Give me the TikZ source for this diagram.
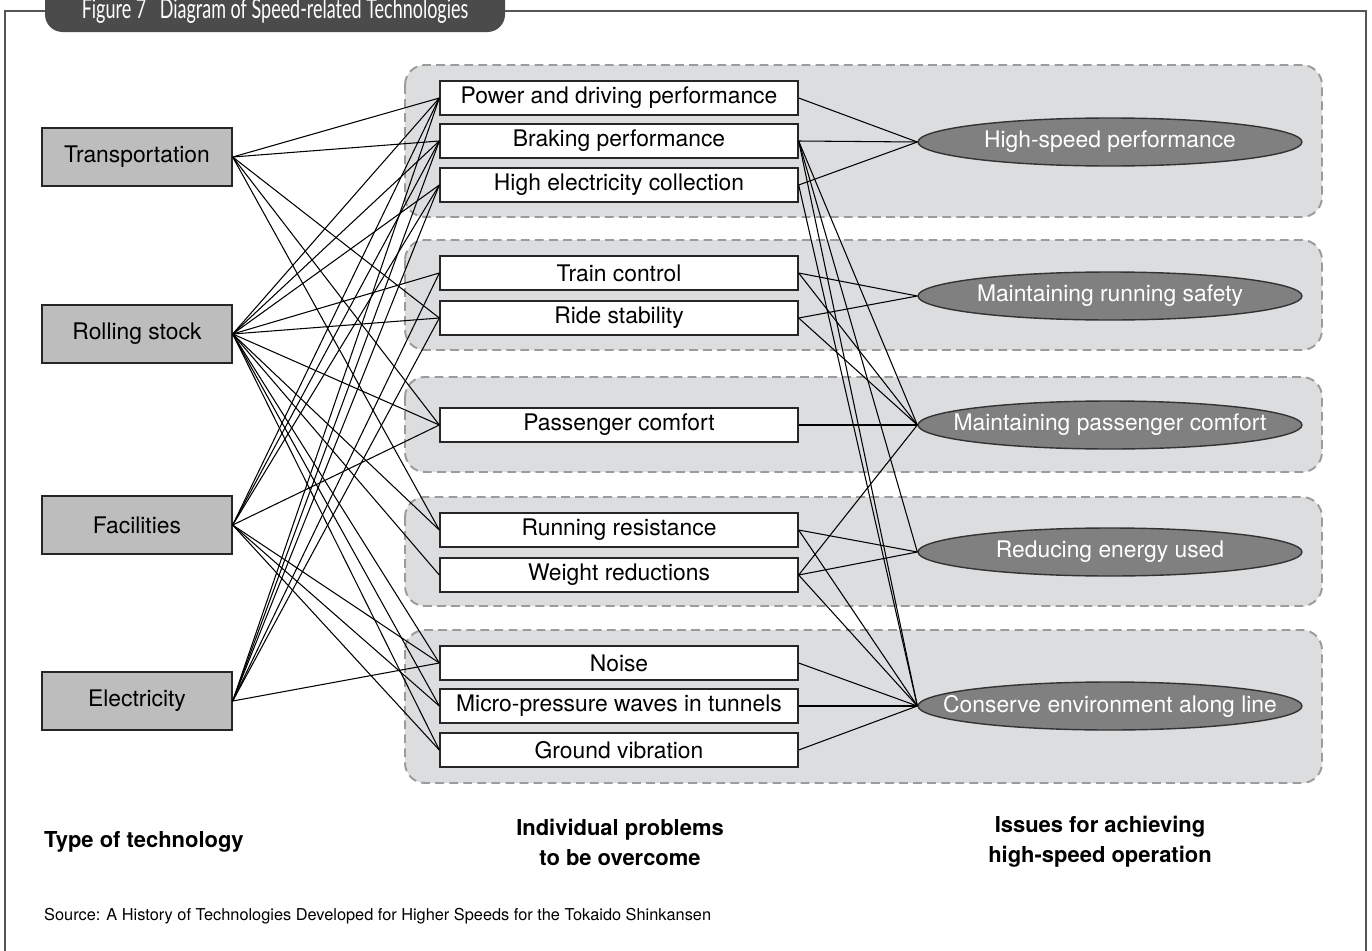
\documentclass[tikz,border=0pt]{standalone}
\usepackage{fontspec}
\setmainfont{TeX Gyre Heros}
\newfontfamily\titlefont[FakeStretch=0.66]{Lato}
\usetikzlibrary{shapes.geometric}
\definecolor{panelgray}{HTML}{DCDDDF}
\definecolor{techgray}{HTML}{BDBDBD}
\definecolor{tabgray}{HTML}{4B4B4B}
\definecolor{issuegray}{HTML}{808080}
\definecolor{dashgray}{HTML}{9B9B9B}
\definecolor{framegray}{HTML}{555555}

\begin{document}
\begin{tikzpicture}[x=0.02cm,y=-0.02cm,
    tech/.style={draw=black!85, line width=0.8pt, fill=techgray, minimum width=3.8cm, minimum height=1.16cm, font=\fontsize{13}{15}\selectfont},
    problem/.style={draw=black!85, line width=0.8pt, fill=white, minimum width=7.16cm, minimum height=0.68cm, inner sep=0pt, font=\fontsize{13}{15}\selectfont},
    issue/.style={ellipse, draw=black!80, line width=0.8pt, fill=issuegray, minimum width=7.68cm, minimum height=0.96cm, inner xsep=-3cm, inner ysep=0pt, text=white, font=\fontsize{13}{15}\selectfont},
    panel/.style={fill=panelgray, draw=dashgray, line width=1.1pt, dash pattern=on 5pt off 3pt, rounded corners=0.4cm},
    head/.style={font=\bfseries\fontsize{12.5}{17}\selectfont, align=center},
    link/.style={line width=0.6pt, black}]
    \useasboundingbox (0,0) rectangle (1372,950);

    % Frame and title tab
    \draw[framegray, line width=1.2pt] (5,960) -- (5,11) -- (60,11);
    \draw[framegray, line width=1.2pt] (480,11) -- (1366,11) -- (1366,960);
    \fill[tabgray, rounded corners=0.35cm] (45,-30) rectangle (505,32);
    \node[text=white, anchor=base, font=\titlefont\fontsize{15.5}{17}\selectfont] (title) at (275,18) {Figure 7\enspace Diagram of Speed-related Technologies};

    % Panels
    \draw[panel] (405,65) rectangle (1322,217);
    \draw[panel] (405,240) rectangle (1322,350);
    \draw[panel] (405,377) rectangle (1322,472);
    \draw[panel] (405,497) rectangle (1322,606);
    \draw[panel] (405,630) rectangle (1322,783);

    % Type of technology
    \node[tech] (tr) at (137,157) {Transportation};
    \node[tech] (rs) at (137,334) {Rolling stock};
    \node[tech] (fa) at (137,525) {Facilities};
    \node[tech] (el) at (137,701) {Electricity};

    % Individual problems
    \node[problem] (pow) at (619,98) {Power and driving performance};
    \node[problem] (brk) at (619,141) {Braking performance};
    \node[problem] (hec) at (619,185) {High electricity collection};
    \node[problem] (tcn) at (619,273) {Train control};
    \node[problem] (rst) at (619,318) {Ride stability};
    \node[problem] (pco) at (619,425) {Passenger comfort};
    \node[problem] (rre) at (619,530) {Running resistance};
    \node[problem] (wgt) at (619,575) {Weight reductions};
    \node[problem] (noi) at (619,663) {Noise};
    \node[problem] (mic) at (619,706) {Micro-pressure waves in tunnels};
    \node[problem] (gnd) at (619,750) {Ground vibration};

    % Issues
    \node[issue] (hsp) at (1110,142) {High-speed performance};
    \node[issue] (saf) at (1110,296) {Maintaining running safety};
    \node[issue] (cmf) at (1110,425) {Maintaining passenger comfort};
    \node[issue] (ene) at (1110,552) {Reducing energy used};
    \node[issue] (env) at (1110,706) {Conserve environment along line};

    % Links to problems
    \foreach \a/\b in {tr/pow, tr/brk, tr/rst, tr/pco, tr/rre,
        rs/pow, rs/brk, rs/hec, rs/tcn, rs/rst, rs/pco, rs/rre, rs/wgt, rs/noi, rs/mic, rs/gnd,
        fa/pow, fa/brk, fa/hec, fa/pco, fa/noi, fa/mic, fa/gnd,
        el/pow, el/brk, el/hec, el/tcn, el/rst, el/noi}
        \draw[link] (\a.east) -- (\b.west);

    % Links to issues
    \foreach \a/\b in {pow/hsp, brk/hsp, hec/hsp, brk/cmf, brk/ene, brk/env, hec/env,
        tcn/saf, rst/saf, tcn/cmf, rst/cmf, pco/cmf, wgt/cmf,
        rre/ene, wgt/ene, rre/env, wgt/env, noi/env, mic/env, gnd/env}
        \draw[link] (\a.east) -- (\b.west);

    % Column headings
    \node[head, anchor=west] (h1) at (38,842) {Type of technology};
    \node[head] (h2) at (620,842) {Individual problems\\to be overcome};
    \node[head] (h3) at (1100,842) {Issues for achieving\\high-speed operation};

    % Source
    \node[font=\fontsize{9.3}{12}\selectfont, anchor=west] (src) at (38,916) {Source: A History of Technologies Developed for Higher Speeds for the Tokaido Shinkansen};
\end{tikzpicture}
\end{document}
